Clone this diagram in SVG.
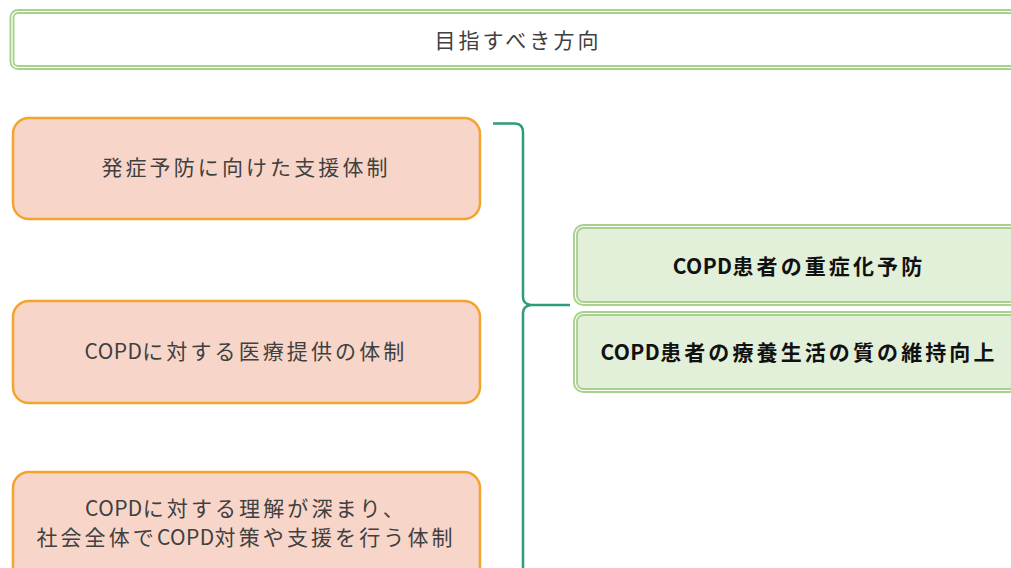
<svg xmlns="http://www.w3.org/2000/svg" width="1011" height="568" viewBox="0 0 1011 568">
<style>
.t{font-family:"Noto Sans CJK JP","Noto Sans",sans-serif;font-size:21px;letter-spacing:3.1px;text-anchor:middle;dominant-baseline:central}
.l{letter-spacing:0.4px}
.g{fill:#404040}
.b{fill:#111;font-weight:bold}
.outerG{stroke:#a9d18e;stroke-width:5}
.innerW{fill:none;stroke:#ffffff;stroke-width:1.2}
.lbox{fill:#f8d5c9;stroke:#f4a42c;stroke-width:2.5}
.wf{fill:#ffffff}
.gf{fill:#e2efd9}
</style>
<g id="title">
<rect x="12" y="11.5" width="1010" height="56" rx="6" class="outerG wf"/>
<rect x="12" y="11.5" width="1010" height="56" rx="6" class="innerW"/>
<text class="t g" x="518" y="39">目指すべき方向</text>
</g>
<g id="left1">
<rect class="lbox" x="13" y="118" width="467" height="101" rx="16"/>
<text class="t g" x="246" y="166">発症予防に向けた支援体制</text>
</g>
<g id="left2">
<rect class="lbox" x="13" y="301" width="467" height="102" rx="16"/>
<text class="t g" x="246" y="350"><tspan class="l">COPD</tspan>に対する医療提供の体制</text>
</g>
<g id="left3">
<rect class="lbox" x="13" y="472" width="467" height="130" rx="16"/>
<text class="t g" x="246" y="507"><tspan class="l">COPD</tspan>に対する理解が深まり、</text>
<text class="t g" x="246" y="536">社会全体で<tspan class="l">COPD</tspan>対策や支援を行う体制</text>
</g>
<g id="connectors">
<path d="M493 123.5 L515 123.5 Q523 124 523 132 L523 297 Q523 304 531 305 L570 305 M531 305 Q523 306 523 313 L523 570" fill="none" stroke="#2e9c7b" stroke-width="2.5"/>
</g>
<g id="right1">
<rect x="575.5" y="226.5" width="450" height="77" rx="8" class="outerG gf"/>
<rect x="575.5" y="226.5" width="450" height="77" rx="8" class="innerW"/>
<text class="t b" x="799" y="265"><tspan class="l">COPD</tspan>患者の重症化予防</text>
</g>
<g id="right2">
<rect x="575.5" y="313.5" width="450" height="77" rx="8" class="outerG gf"/>
<rect x="575.5" y="313.5" width="450" height="77" rx="8" class="innerW"/>
<text class="t b" x="799" y="351"><tspan class="l">COPD</tspan>患者の療養生活の質の維持向上</text>
</g>
</svg>
